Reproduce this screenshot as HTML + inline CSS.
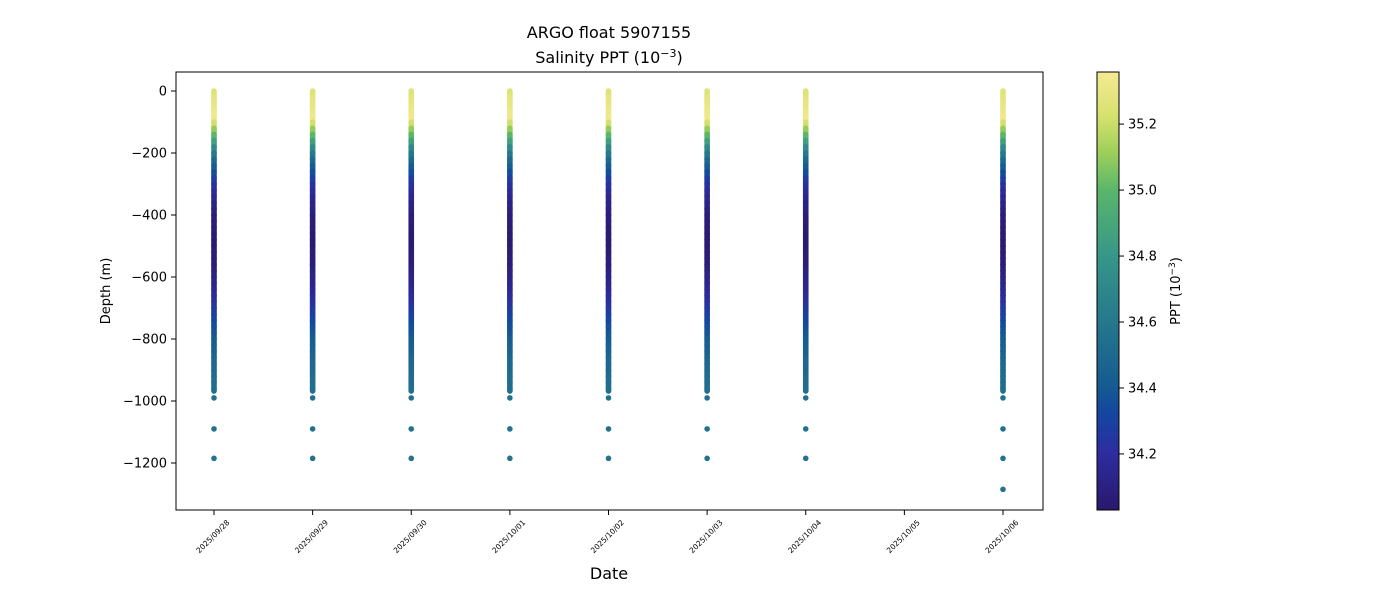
<!DOCTYPE html>
<html><head><meta charset="utf-8"><style>
body{margin:0;background:#fff;font-family:"Liberation Sans","DejaVu Sans",sans-serif}
svg text{font-family:"DejaVu Sans","Liberation Sans",sans-serif}
</style></head><body>
<svg id="chart" width="1400" height="600" xmlns="http://www.w3.org/2000/svg">
<defs><linearGradient id="cmap" x1="0" y1="1" x2="0" y2="0"></linearGradient></defs>
<text x="609" y="38" text-anchor="middle" font-size="16">ARGO float 5907155</text>
<text x="609" y="63" text-anchor="middle" font-size="16">Salinity PPT (10<tspan dy="-6" font-size="11">−3</tspan><tspan dy="6">)</tspan></text>
<g id="plot"></g>
<rect x="176" y="72" width="867" height="438" fill="none" stroke="#000" stroke-width="1"/>
<text x="0" y="0" transform="translate(110,291) rotate(-90)" text-anchor="middle" font-size="13">Depth (m)</text>
<text x="609" y="579" text-anchor="middle" font-size="16">Date</text>
<rect x="1097" y="72" width="22" height="438" fill="url(#cmap)" stroke="#000" stroke-width="1"/>
<text x="0" y="0" transform="translate(1180,291) rotate(-90)" text-anchor="middle" font-size="13">PPT (10<tspan dy="-5" font-size="9">−3</tspan><tspan dy="5">)</tspan></text>
</svg>
<script>
const dates=["2025/09/28","2025/09/29","2025/09/30","2025/10/01","2025/10/02","2025/10/03","2025/10/04","2025/10/05","2025/10/06"];
const profileDates=[0,1,2,3,4,5,6,8];
const depths=[0,20,40,60,80,100,120,140,160,180,200,220,240,260,280,300,320,340,360,380,400,420,440,460,480,500,520,540,560,580,600,620,640,660,680,700,720,740,760,780,800,820,840,860,880,900,920,940,960];
const salinity=[35.25,35.28,35.3,35.32,35.33,35.22,35.1,35.0,34.85,34.72,34.6,34.5,34.42,34.35,34.28,34.22,34.18,34.15,34.12,34.1,34.08,34.07,34.06,34.05,34.05,34.05,34.06,34.07,34.08,34.1,34.12,34.14,34.16,34.19,34.22,34.26,34.3,34.33,34.36,34.39,34.42,34.44,34.46,34.48,34.5,34.51,34.52,34.53,34.54];
const deepDepths=[990,1090,1185];
const deepSal=[34.55,34.56,34.57];
const extraDepths=[1285];
const extraSal=[34.57];
const yTicks=[0,-200,-400,-600,-800,-1000,-1200];
const cTicks=[34.2,34.4,34.6,34.8,35.0,35.2];
const NS="http://www.w3.org/2000/svg";
const svg=document.getElementById('chart'),plot=document.getElementById('plot');
const xS=i=>214+i*98.625, yS=v=>91-v*0.31;
const cMin=34.03,cMax=35.358, cbY=v=>510-(v-cMin)/(cMax-cMin)*438;
const stops=[[0,[42,24,108]],[0.13,[45,45,160]],[0.22,[20,70,160]],[0.28,[21,90,145]],[0.43,[38,120,140]],[0.58,[55,150,137]],[0.73,[90,182,106]],[0.82,[160,208,90]],[0.9,[215,225,110]],[1,[245,234,148]]];
function cmap(v){let t=Math.max(0,Math.min(1,(v-cMin)/(cMax-cMin)));for(let i=1;i<stops.length;i++){if(t<=stops[i][0]){const a=stops[i-1],b=stops[i],f=(t-a[0])/(b[0]-a[0]);const c=a[1].map((x,k)=>Math.round(x+(b[1][k]-x)*f));return`rgb(${c})`;}}return'rgb(245,234,148)';}
const grad=document.getElementById('cmap');
stops.forEach(s=>{const st=document.createElementNS(NS,'stop');st.setAttribute('offset',s[0]);st.setAttribute('stop-color',`rgb(${s[1]})`);grad.appendChild(st);});
function el(t,a,p){const e=document.createElementNS(NS,t);for(const k in a)e.setAttribute(k,a[k]);(p||svg).appendChild(e);return e;}
profileDates.forEach(di=>{
  const x=xS(di);
  depths.forEach((d,i)=>{
    const d2=i<depths.length-1?depths[i+1]:d+8;
    const r=el('rect',{x:x-2.8,y:yS(-d)-2.8,width:5.6,height:(d2-d)*0.31+5.6,rx:2.8,fill:cmap(salinity[i])},plot);
    
    
  });
  deepDepths.forEach((d,i)=>{
    const c=el('circle',{cx:x,cy:yS(-d),r:2.8,fill:cmap(deepSal[i])},plot);
    
    
  });
  if(di===8) extraDepths.forEach((d,i)=>{
    const c=el('circle',{cx:x,cy:yS(-d),r:2.8,fill:cmap(extraSal[i])},plot);
    
    
  });
});
yTicks.forEach(v=>{const y=yS(v);
  el('line',{x1:171,x2:176,y1:y,y2:y,stroke:'#000'});
  const t=el('text',{x:167,y:y+4.5,'text-anchor':'end','font-size':13});t.textContent=v<0?'−'+Math.abs(v):v;
  
  
});
dates.forEach((d,i)=>{const x=xS(i);
  el('line',{x1:x,x2:x,y1:510,y2:515,stroke:'#000'});
  const t=el('text',{x:0,y:0,transform:`translate(${x+16},${523}) rotate(-45)`,'text-anchor':'end','font-size':7.5});t.textContent=d;
  
  
});
cTicks.forEach(v=>{const y=cbY(v);
  el('line',{x1:1119,x2:1124,y1:y,y2:y,stroke:'#000'});
  const t=el('text',{x:1128,y:y+4.5,'font-size':13});t.textContent=v.toFixed(1);
  
  
});
</script>
</body></html>
